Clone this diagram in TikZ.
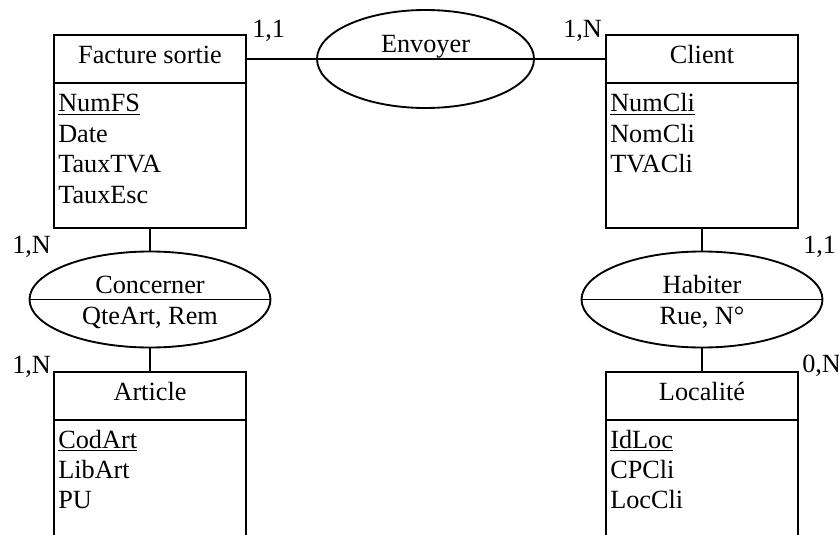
\documentclass[tikz,border=0pt]{standalone}
\usepackage{fontspec}
\setmainfont{Liberation Serif}
\usetikzlibrary{shapes.geometric}

\tikzset{
  entete/.style={draw, line width=1.4pt, minimum width=144pt, minimum height=36pt, inner sep=0pt, outer sep=0pt},
  corps/.style={draw, line width=1.4pt, minimum width=144pt, minimum height=108.75pt, inner sep=0pt, outer sep=0pt},
  assoc/.style={draw, ellipse, line width=1.4pt, inner sep=0pt, outer sep=0pt},
  txt/.style={inner sep=0pt, font=\fontsize{19.7}{23}\selectfont},
  lien/.style={line width=1.4pt},
}

\begin{document}
\begin{tikzpicture}[x=0.75pt,y=0.75pt,yscale=-1,xscale=1]
        \useasboundingbox (0,0) rectangle (839,535);

        %Shape: Rectangle [Facture sortie]
        \node[entete] (fact) at (150,59) {};
        \node[corps, anchor=north] (factB) at (fact.south) {};
        % Text Node
        \node[txt, anchor=base] (factT) at (150,64) {Facture sortie};
        \foreach \a [count=\i from 0] in {\underline{NumFS},Date,TauxTVA,TauxEsc}
          \node[txt, anchor=base west] (factA\i) at (58,111.7+30.5*\i) {\a};

        %Shape: Rectangle [Client]
        \node[entete] (client) at (702,59) {};
        \node[corps, anchor=north] (clientB) at (client.south) {};
        % Text Node
        \node[txt, anchor=base] (clientT) at (702,64) {Client};
        \foreach \a [count=\i from 0] in {\underline{NumCli},NomCli,TVACli}
          \node[txt, anchor=base west] (clientA\i) at (610,111.7+30.5*\i) {\a};

        %Shape: Rectangle [Article]
        \node[entete] (art) at (150,396) {};
        \node[corps, anchor=north] (artB) at (art.south) {};
        % Text Node
        \node[txt, anchor=base] (artT) at (150,400) {Article};
        \foreach \a [count=\i from 0] in {\underline{CodArt},LibArt,PU}
          \node[txt, anchor=base west] (artA\i) at (58,448+30*\i) {\a};

        %Shape: Rectangle [Localite]
        \node[entete] (loc) at (702,396) {};
        \node[corps, anchor=north] (locB) at (loc.south) {};
        % Text Node
        \node[txt, anchor=base] (locT) at (702,400) {Localité};
        \foreach \a [count=\i from 0] in {\underline{IdLoc},CPCli,LocCli}
          \node[txt, anchor=base west] (locA\i) at (610,448+30*\i) {\a};

        %Shape: Ellipse [Envoyer]
        \node[assoc, minimum width=162.75pt, minimum height=73.5pt] (envoi) at (425.5,59) {};
        \draw[lien] (envoi.west) -- (envoi.east);
        \node[txt, anchor=base] (envoiT) at (425.5,53) {Envoyer};

        %Shape: Ellipse [Concerner]
        \node[assoc, minimum width=180.75pt, minimum height=72pt] (conc) at (150,299.5) {};
        \draw[lien] (conc.west) -- (conc.east);
        \node[txt, anchor=base] (concT) at (150,293) {Concerner};
        \node[txt, anchor=base] (concA) at (150,324) {QteArt, Rem};

        %Shape: Ellipse [Habiter]
        \node[assoc, minimum width=180.75pt, minimum height=72pt] (hab) at (702,299.5) {};
        \draw[lien] (hab.west) -- (hab.east);
        \node[txt, anchor=base] (habT) at (702,293) {Habiter};
        \node[txt, anchor=base] (habA) at (702,324) {Rue, N°};

        %Straight Lines
        \draw[lien] (fact.east) -- (envoi.west);
        \draw[lien] (envoi.east) -- (client.west);
        \draw[lien] (factB.south) -- (conc.north);
        \draw[lien] (conc.south) -- (art.north);
        \draw[lien] (clientB.south) -- (hab.north);
        \draw[lien] (hab.south) -- (loc.north);

        % Text Node
        \node[txt, anchor=base west] (cardFE) at (252,38) {1,1};
        \node[txt, anchor=base west] (cardCE) at (563,38) {1,N};
        \node[txt, anchor=base west] (cardFC) at (12,253) {1,N};
        \node[txt, anchor=base west] (cardAC) at (12,373) {1,N};
        \node[txt, anchor=base west] (cardCH) at (803,253) {1,1};
        \node[txt, anchor=base west] (cardLH) at (802,372) {0,N};

\end{tikzpicture}
\end{document}
